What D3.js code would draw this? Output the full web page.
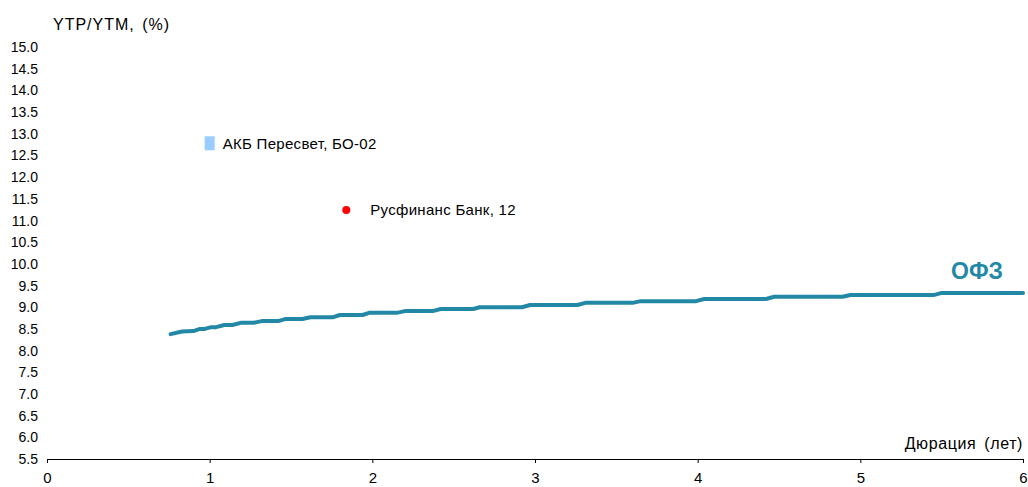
<!DOCTYPE html>
<html><head><meta charset="utf-8">
<script src="https://cdn.jsdelivr.net/npm/d3@7"></script>
<style>body{margin:0;background:#fff;}svg{display:block;font-family:"Liberation Sans",Arial,sans-serif;}</style>
</head><body>
<svg id="c" width="1028" height="487"></svg>
<script>
const yTicks = [5.5,6.0,6.5,7.0,7.5,8.0,8.5,9.0,9.5,10.0,10.5,11.0,11.5,12.0,12.5,13.0,13.5,14.0,14.5,15.0];
const xTicks = [0,1,2,3,4,5,6];
// OFZ curve vertices (duration, yield)
const ofzDur = [0.76,0.83,0.90,0.94,0.97,1.01,1.04,1.09,1.14,1.19,1.27,1.32,1.42,1.47,1.57,1.62,1.76,1.80,1.94,1.98,2.15,2.20,2.37,2.42,2.62,2.66,2.92,2.97,3.26,3.31,3.60,3.65,3.99,4.04,4.42,4.47,4.89,4.94,5.45,5.50,6.00];
const ofzYld = [8.38,8.44,8.45,8.50,8.50,8.54,8.54,8.59,8.59,8.64,8.64,8.68,8.68,8.73,8.73,8.77,8.77,8.82,8.82,8.87,8.87,8.91,8.91,8.96,8.96,9.00,9.00,9.05,9.05,9.10,9.10,9.14,9.14,9.19,9.19,9.24,9.24,9.28,9.28,9.33,9.33];
const bondNames = ["АКБ Пересвет, БО-02","Русфинанс Банк, 12"];
const bondDur = [1.00,1.84];
const bondYld = [12.78,11.24];

const svg = d3.select("#c");
const x = d3.scaleLinear().domain([0,6]).range([47,1023]);
const y = d3.scaleLinear().domain([5.5,15]).range([459,47]);
const teal = "#2388A6";

// y tick labels
svg.append("g").selectAll("text").data(yTicks).join("text")
  .attr("x",38).attr("y",d=>y(d)).attr("dy","0.36em").attr("text-anchor","end")
  .attr("font-size",14).attr("fill","#000").text(d=>d.toFixed(1));

// x axis
const xa = svg.append("g").attr("transform","translate(0,459)")
  .call(d3.axisBottom(x).tickValues(xTicks).tickFormat(d3.format("d")).tickSize(4).tickSizeOuter(0).tickPadding(9));
xa.select(".domain").attr("stroke","#000");
xa.selectAll("line").attr("stroke","#000");
xa.selectAll("text").attr("font-size",15).attr("font-family","Liberation Sans, Arial, sans-serif").attr("fill","#000");

// titles
svg.append("text").attr("x",53).attr("y",30).attr("font-size",16).attr("letter-spacing",1).attr("word-spacing",2).text("YTP/YTM, (%)");
svg.append("text").attr("x",1023).attr("y",449).attr("text-anchor","end").attr("font-size",16).attr("letter-spacing",0.6).attr("word-spacing",3).text("Дюрация (лет)");

// OFZ line
const pts = ofzDur.map((d,i)=>[d,ofzYld[i]]);
svg.append("path").datum(pts)
  .attr("d", d3.line().x(d=>x(d[0])).y(d=>y(d[1])))
  .attr("fill","none").attr("stroke",teal).attr("stroke-width",4).attr("stroke-linejoin","round").attr("stroke-linecap","round");
svg.append("text").attr("x",951).attr("y",279).attr("font-size",23).attr("font-weight","bold").attr("fill",teal).text("ОФЗ");

// bonds
svg.append("rect").attr("x",x(bondDur[0])-5).attr("y",y(bondYld[0])-7).attr("width",10).attr("height",14).attr("fill","#99CCFF");
svg.append("circle").attr("cx",x(bondDur[1])).attr("cy",y(bondYld[1])).attr("r",4).attr("fill","#FF0000");
svg.append("g").selectAll("text").data(bondNames).join("text")
  .attr("x",(d,i)=>x(bondDur[i])+(i===0?13:24)).attr("y",(d,i)=>y(bondYld[i])).attr("dy","0.36em")
  .attr("font-size",15).attr("letter-spacing",0.3).text(d=>d);
</script>
</body></html>
